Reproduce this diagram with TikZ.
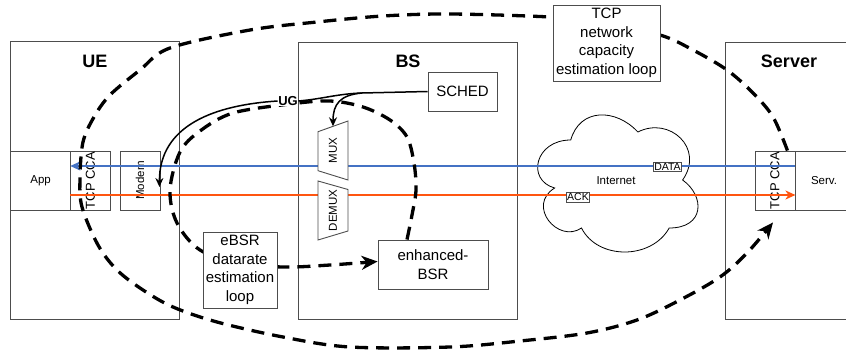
\documentclass[tikz,border=0pt]{standalone}
\usepackage{fontspec}
\setmainfont{Liberation Sans}
\usetikzlibrary{arrows.meta}
\definecolor{frame}{RGB}{77,77,77}
\definecolor{datablue}{RGB}{68,114,196}
\definecolor{ackorange}{RGB}{255,85,16}
\newcommand{\fsz}[2]{\fontsize{#1}{#2}\selectfont}

\begin{document}
\begin{tikzpicture}[x=1pt, y=-1pt,
    blk/.style={draw=frame, line width=0.9pt, fill=white, inner sep=0pt},
    ttl/.style={font=\bfseries\fsz{18}{20}},
    big/.style={font=\fsz{15}{18.5}, align=center},
    sml/.style={font=\fsz{11.5}{13}},
    tag/.style={draw=frame, line width=0.7pt, fill=white, inner sep=1pt, font=\fsz{10.5}{12}},
    flow/.style={line width=1.8pt, -{Stealth[length=10pt, width=9pt, inset=3pt]}},
    loopl/.style={line width=3.3pt, dash pattern=on 13pt off 8pt,
                  -{Stealth[length=16pt, width=14pt, inset=5pt]}},
    ugline/.style={line width=1.5pt},
    ugl/.style={ugline, -{Stealth[length=9pt, width=8pt, inset=3pt]}},
    mxbox/.style={draw=frame, line width=0.9pt, fill=white}
  ]
  \useasboundingbox (0,0) rectangle (846,353);
  \clip (0,0) rectangle (846,353);

  % hosts
  \node[blk, minimum width=168.5pt, minimum height=277.5pt] (ue) at (94.75,180.25) {};
  \node[blk, minimum width=219pt, minimum height=277pt] (bs) at (407.5,180.5) {};
  \node[blk, minimum width=128pt, minimum height=277pt] (srv) at (789,180.5) {};
  \node[ttl] at (95,61) {UE};
  \node[ttl] at (408,61) {BS};
  \node[ttl] at (789,61) {Server};

  % inner blocks
  \node[blk, sml, minimum width=60.2pt, minimum height=59pt] (app) at (40.6,180.5) {App};
  \node[blk, minimum width=39.3pt, minimum height=59pt] (tcpu) at (90.35,180.5) {};
  \node[sml, rotate=90, font=\fsz{13}{15}] at (tcpu) {TCP CCA};
  \node[blk, minimum width=40pt, minimum height=59pt] (modem) at (140,180.5) {};
  \node[sml, rotate=90] at (modem) {Modem};
  \node[blk, minimum width=40pt, minimum height=59pt] (tcps) at (775,180.5) {};
  \node[sml, rotate=90, font=\fsz{13}{15}] at (tcps) {TCP CCA};
  \node[blk, sml, minimum width=58pt, minimum height=59pt] (serv) at (824,180.5) {Serv.};
  \node[blk, big, minimum width=69pt, minimum height=39pt] (sched) at (462.5,91.5) {SCHED};
  \node[blk, big, minimum width=110pt, minimum height=49pt] (enh) at (433,264.5) {enhanced-\\BSR};

  % internet cloud
  \begin{scope}[shift={(526,100)}, x=179pt, y=-160pt]
    \draw[line width=0.8pt] (0.25,0.25) .. controls (0.05,0.25) and (0,0.5) .. (0.16,0.55)
      .. controls (0,0.66) and (0.18,0.9) .. (0.31,0.8)
      .. controls (0.4,1) and (0.7,1) .. (0.8,0.8)
      .. controls (1,0.8) and (1,0.6) .. (0.875,0.5)
      .. controls (1,0.3) and (0.8,0.1) .. (0.625,0.2)
      .. controls (0.5,0.05) and (0.3,0.05) .. (0.25,0.25) -- cycle;
  \end{scope}
  \node[sml] (inet) at (616,181) {Internet};

  % data and ack flows
  \draw[flow, datablue] ([yshift=14.5pt]tcps.east) -- ([yshift=14.5pt]tcpu.west);
  \draw[flow, ackorange] ([yshift=-14.5pt]tcpu.west) -- ([yshift=-14.5pt]tcps.east);
  \draw[mxbox] (318,131.7) -- (348,121) -- (348,180) -- (318,170.7) -- cycle;
  \node[sml, rotate=90] (mux) at (333,150.5) {MUX};
  \draw[mxbox] (318,181) -- (348,189.5) -- (348,231) -- (318,240) -- cycle;
  \node[sml, rotate=90] (demux) at (333,210.5) {DEMUX};
  \coordinate (muxtop) at (333,126.3);
  \node[tag] (data) at (667.5,166.5) {DATA};
  \node[tag] (ack) at (578,197.3) {ACK};

  % estimation loops
  \coordinate (bigstart) at ([xshift=-8pt]tcps.north east);
  \coordinate (bigend) at ([xshift=-2pt, yshift=-12pt]tcps.south);
  \draw[loopl] plot[smooth, tension=0.55] coordinates {(bigstart) (773,117) (753,93)
    (727,70) (693,50) (660,35) (600,22) (550,17) (450,14) (383,16) (317,22) (250,30)
    (170,48) (140,70) (110,95) (94,117) (83,142) (80,178) (82,207) (98,245) (117,270)
    (143,290) (173,307) (217,322) (283,337) (350,347) (450,347) (520,341) (587,333)
    (637,320) (680,300) (720,277) (747,253) (bigend)};
  \coordinate (ebsrstart) at ([xshift=-26pt]enh.north);
  \coordinate (ebsrend) at ([yshift=3pt]enh.west);
  \draw[loopl] plot[smooth, tension=0.55] coordinates {(ebsrstart) (412,215) (416,190)
    (414,163) (407,137) (390,120) (363,107) (330,101) (290,104) (233,113) (200,131)
    (180,152) (170,190) (177,223) (200,250) (240,264) (287,267) (330,265) (ebsrend)};
  \node[blk, big, minimum width=74pt, minimum height=76pt] (ebsrloop) at (240,270)
       {eBSR\\datarate\\estimation\\loop};
  \node[blk, big, minimum width=107pt, minimum height=76pt] (tcploop) at (606.5,43)
       {TCP\\network\\capacity\\estimation loop};

  % uplink grant
  \node[font=\bfseries\fsz{13}{15}, fill=white, inner sep=0.5pt] (ug) at (288,101) {UG};
  \coordinate (ugsplit) at (362,93);
  \coordinate (modemtip) at ([xshift=-1pt, yshift=-6.5pt]modem.east);
  \draw[ugline] (sched.west) -- (ugsplit) to[out=182, in=5] (ug.east);
  \draw[ugl] (ug.west) .. controls (215,105) and (159,125) .. (modemtip);
  \draw[ugl] (ugsplit) .. controls (340,95) and (333,104) .. (muxtop);
\end{tikzpicture}
\end{document}
